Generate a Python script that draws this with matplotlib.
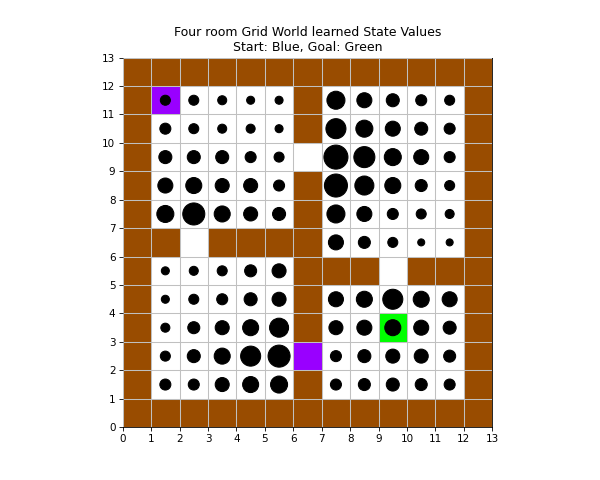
import matplotlib
matplotlib.use("Agg")
import matplotlib.pyplot as plt

# 13x13 four room layout, top row first ('W' wall, '.' free, 'D' doorway)
layout = [
    "WWWWWWWWWWWWW",
    "W.....W.....W",
    "W.....W.....W",
    "W.....D.....W",
    "W.....W.....W",
    "W.....W.....W",
    "WWDWWWW.....W",
    "W.....WWWDWWW",
    "W.....W.....W",
    "W.....W.....W",
    "W.....D.....W",
    "W.....W.....W",
    "WWWWWWWWWWWWW",
]

# learned state values, rows y=11 down to y=1, columns x=1..11
values = [
    [10, 10, 9, 8, 8, 0, 18, 15, 13, 11, 10],
    [11, 10, 9, 9, 8, 0, 20, 17, 15, 13, 11],
    [13, 13, 13, 11, 10, 0, 24, 21, 17, 15, 11],
    [15, 16, 14, 14, 11, 0, 23, 19, 16, 12, 10],
    [17, 22, 16, 14, 13, 0, 18, 15, 11, 10, 9],
    [0, 0, 0, 0, 0, 0, 15, 12, 10, 7, 7],
    [8, 9, 10, 12, 14, 0, 0, 0, 0, 0, 0],
    [8, 10, 11, 13, 14, 0, 15, 16, 20, 16, 15],
    [9, 12, 14, 16, 19, 0, 14, 15, 16, 15, 13],
    [10, 13, 16, 20, 22, 0, 11, 13, 14, 14, 12],
    [11, 11, 14, 16, 17, 0, 11, 12, 13, 12, 11],
]

start_cells = [(1, 11), (6, 2)]
goal_cells = [(9, 3)]

size = 13
fig, ax = plt.subplots(figsize=(8, 6.4), dpi=75)

# cells
for row, line in enumerate(layout):
    y = size - 1 - row
    for x, c in enumerate(line):
        color = "#994c00" if c == "W" else "white"
        if (x, y) in start_cells:
            color = "#9900ff"
        elif (x, y) in goal_cells:
            color = "#00ff00"
        ax.add_patch(plt.Rectangle((x, y), 1, 1, facecolor=color, edgecolor="none", zorder=1))

# state values as circles
scale = 1 / 28.4 / 2
for i, row_vals in enumerate(values):
    y = 11 - i
    for j, v in enumerate(row_vals):
        x = j + 1
        if v > 0:
            ax.add_patch(plt.Circle((x + 0.5, y + 0.5), v * scale, color="black", zorder=3))

ax.set_xlim(0, size)
ax.set_ylim(0, size)
ax.set_xticks(range(size + 1))
ax.set_yticks(range(size + 1))
ax.set_aspect("equal")
ax.grid(True, color="#c0c0c0", linewidth=1, zorder=2)
ax.set_axisbelow(False)
ax.set_title("Four room Grid World learned State Values\nStart: Blue, Goal: Green")

fig.savefig("out.png", dpi=75)
